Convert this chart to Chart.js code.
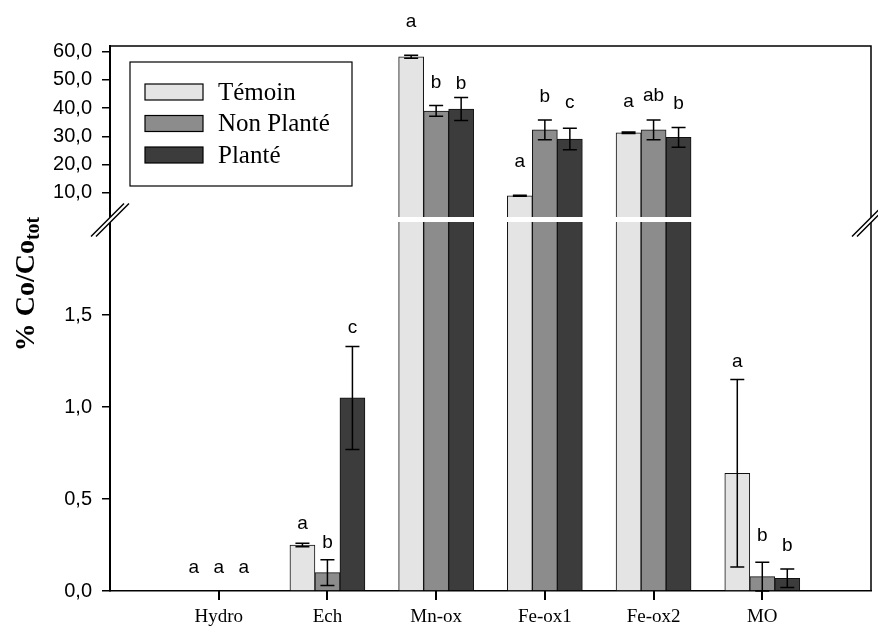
<!DOCTYPE html>
<html>
<head>
<meta charset="utf-8">
<script src="https://cdn.jsdelivr.net/npm/chart.js@4.4.1/dist/chart.umd.min.js"></script>
<style>
  html, body { margin: 0; padding: 0; background: #fff; }
</style>
</head>
<body>
<canvas id="chart" width="878" height="632"></canvas>
<script>
// fractions on the x axis
const fractions = ['Hydro', 'Ech', 'Mn-ox', 'Fe-ox1', 'Fe-ox2', 'MO'];

// % Co / Co tot
const temoin = [0, 0.25, 58.2, 9.0, 31.3, 0.64];
const temoinErr = [0, 0.01, 0.5, 0.2, 0.3, 0.51];
const nonPlante = [0, 0.10, 39.0, 32.3, 32.3, 0.078];
const nonPlanteErr = [0, 0.07, 1.9, 3.5, 3.5, 0.078];
const plante = [0, 1.05, 39.7, 29.1, 29.7, 0.069];
const planteErr = [0, 0.28, 4.1, 3.8, 3.5, 0.05];

// significance letters
const lettersTemoin = ['a', 'a', 'a', 'a', 'a', 'a'];
const lettersNonPlante = ['a', 'b', 'b', 'b', 'ab', 'b'];
const lettersPlante = ['a', 'c', 'b', 'c', 'b', 'b'];

// tick labels of the broken y axis
const lowTicks = [0, 0.5, 1.0, 1.5];
const highTicks = [10, 20, 30, 40, 50, 60];

const LOW_MAX = 2.02;
const HIGH_MIN = 0.6;
const HIGH_MAX = 62;

const series = [
  { label: 'Témoin', values: temoin, err: temoinErr, letters: lettersTemoin, color: '#e4e4e4' },
  { label: 'Non Planté', values: nonPlante, err: nonPlanteErr, letters: lettersNonPlante, color: '#8c8c8c' },
  { label: 'Planté', values: plante, err: planteErr, letters: lettersPlante, color: '#3c3c3c' }
];

const pad = arr => [null, ...arr, null];
const lowPart = arr => pad(arr.map(v => Math.min(v, LOW_MAX)));
const highPart = arr => pad(arr.map(v => v > LOW_MAX ? v : null));

const datasets = [];
series.forEach((s, k) => {
  const common = {
    label: s.label, stack: 's' + k, backgroundColor: s.color,
    borderColor: '#111', borderWidth: 1, barThickness: 25
  };
  datasets.push(Object.assign({ data: lowPart(s.values), yAxisID: 'yLow' }, common));
  datasets.push(Object.assign({ data: highPart(s.values), yAxisID: 'yHigh' }, common));
});

const comma = v => Number(v).toFixed(1).replace('.', ',');

// letter offsets above the error bar top, px
const letterLift = [
  [23, 19, 34, 33, 30, 18],
  [23, 17, 23, 23, 24, 27],
  [23, 19, 14, 25, 24, 23]
];

function scaleFor(chart, v) {
  return v > LOW_MAX ? chart.scales.yHigh : chart.scales.yLow;
}

const brokenAxis = {
  id: 'brokenAxis',
  afterDatasetsDraw(chart) {
    const ctx = chart.ctx;
    const a = chart.chartArea;
    const b = chart.scales.yLow.top;
    const xs = chart.scales.x;
    ctx.save();
    ctx.strokeStyle = '#000';
    ctx.lineWidth = 1.5;
    ctx.beginPath();
    ctx.moveTo(a.left, a.top);
    ctx.lineTo(a.right, a.top);
    ctx.lineTo(a.right, a.bottom);
    ctx.stroke();

    // category tick marks under the x axis
    ctx.strokeStyle = '#000';
    ctx.lineWidth = 2;
    ctx.beginPath();
    for (let i = 1; i <= fractions.length; i++) {
      const x = Math.round(xs.getPixelForTick(i));
      ctx.moveTo(x, a.bottom);
      ctx.lineTo(x, a.bottom + 9);
    }
    ctx.stroke();

    // gap through the bars
    ctx.fillStyle = '#fff';
    ctx.fillRect(a.left + 2, b - 2.5, a.right - a.left - 3, 5);

    // the // marks on both sides
    [a.left, a.right].forEach(x => {
      const y = b + 2;
      ctx.fillStyle = '#fff';
      ctx.beginPath();
      ctx.moveTo(x - 19, y + 15);
      ctx.lineTo(x + 14, y - 18);
      ctx.lineTo(x + 19, y - 18);
      ctx.lineTo(x - 14, y + 15);
      ctx.closePath();
      ctx.fill();
      ctx.strokeStyle = '#000';
      ctx.lineWidth = 1.5;
      ctx.beginPath();
      ctx.moveTo(x - 19, y + 15);
      ctx.lineTo(x + 14, y - 18);
      ctx.moveTo(x - 14, y + 15);
      ctx.lineTo(x + 19, y - 18);
      ctx.stroke();
    });

    // error bars and letters
    ctx.font = '19px "Liberation Sans", Arial, sans-serif';
    ctx.textAlign = 'center';
    ctx.textBaseline = 'middle';
    series.forEach((s, k) => {
      const meta = chart.getDatasetMeta(2 * k);
      s.values.forEach((v, i) => {
        const x = meta.data[i + 1].x;
        const e = s.err[i];
        const topV = v + e;
        const ys = scaleFor(chart, v);
        const yTop = scaleFor(chart, topV).getPixelForValue(topV);
        if (e > 0) {
          const yBot = ys.getPixelForValue(v - e);
          ctx.strokeStyle = '#000';
          ctx.lineWidth = 1.5;
          ctx.beginPath();
          ctx.moveTo(x, yBot);
          ctx.lineTo(x, yTop);
          ctx.moveTo(x - 7, yTop);
          ctx.lineTo(x + 7, yTop);
          ctx.moveTo(x - 7, yBot);
          ctx.lineTo(x + 7, yBot);
          ctx.stroke();
        }
        ctx.fillStyle = '#000';
        ctx.fillText(s.letters[i], x, yTop - letterLift[k][i]);
      });
    });

    // legend box
    ctx.lineWidth = 1.2;
    ctx.strokeStyle = '#000';
    ctx.strokeRect(130, 62, 222, 124);
    ctx.font = '25px "Liberation Serif", "Times New Roman", serif';
    ctx.textAlign = 'left';
    series.forEach((s, k) => {
      const y = 84 + k * 31.5;
      ctx.fillStyle = s.color;
      ctx.fillRect(145, y, 58, 16);
      ctx.strokeRect(145, y, 58, 16);
      ctx.fillStyle = '#000';
      ctx.fillText(s.label, 218, y + 9);
    });

    // y title with subscript
    const main = '% Co/Co';
    const sub = 'tot';
    const bigFont = 'bold 28px "Liberation Serif", "Times New Roman", serif';
    const smallFont = 'bold 20px "Liberation Serif", "Times New Roman", serif';
    ctx.translate(25, 284);
    ctx.rotate(-Math.PI / 2);
    ctx.font = bigFont;
    const w1 = ctx.measureText(main).width;
    ctx.font = smallFont;
    const w2 = ctx.measureText(sub).width;
    const x0 = -(w1 + w2) / 2;
    ctx.textBaseline = 'alphabetic';
    ctx.font = bigFont;
    ctx.fillText(main, x0, 9);
    ctx.font = smallFont;
    ctx.fillText(sub, x0 + w1, 14);
    ctx.restore();
  }
};

const yCommon = {
  type: 'linear',
  position: 'left',
  stack: 'y',
  stacked: false,
  grid: { drawOnChartArea: false, drawTicks: true, tickLength: 8, color: '#000', lineWidth: 1.5 },
  border: { color: '#000', width: 2 },
  ticks: {
    callback: v => comma(v),
    font: { family: 'Liberation Sans', size: 20 },
    color: '#000',
    padding: 10,
    autoSkip: false
  },
  afterFit: s => { s.width = 110; }
};

new Chart(document.getElementById('chart'), {
  type: 'bar',
  data: { labels: ['', ...fractions, ''], datasets },
  options: {
    responsive: false,
    animation: false,
    layout: { padding: { top: 46, right: 6, bottom: 0, left: 0 } },
    plugins: { legend: { display: false }, tooltip: { enabled: false } },
    scales: {
      x: {
        type: 'category',
        offset: false,
        grid: {
          offset: false, display: false, drawOnChartArea: false, drawTicks: true, tickLength: 8
        },
        border: { display: true, color: '#000', width: 1.5 },
        ticks: {
          font: { family: 'Liberation Serif', size: 19 },
          color: '#000', padding: 7, autoSkip: false, maxRotation: 0
        },
        afterFit: s => { s.height = 41; }
      },
      yHigh: Object.assign({}, yCommon, {
        min: HIGH_MIN, max: HIGH_MAX, stackWeight: 173.5, weight: 2,
        afterBuildTicks: s => { s.ticks = highTicks.map(v => ({ value: v })); }
      }),
      yLow: Object.assign({}, yCommon, {
        min: 0, max: LOW_MAX, stackWeight: 371.5, weight: 1,
        afterBuildTicks: s => { s.ticks = lowTicks.map(v => ({ value: v })); }
      })
    }
  },
  plugins: [brokenAxis]
});
</script>
</body>
</html>
